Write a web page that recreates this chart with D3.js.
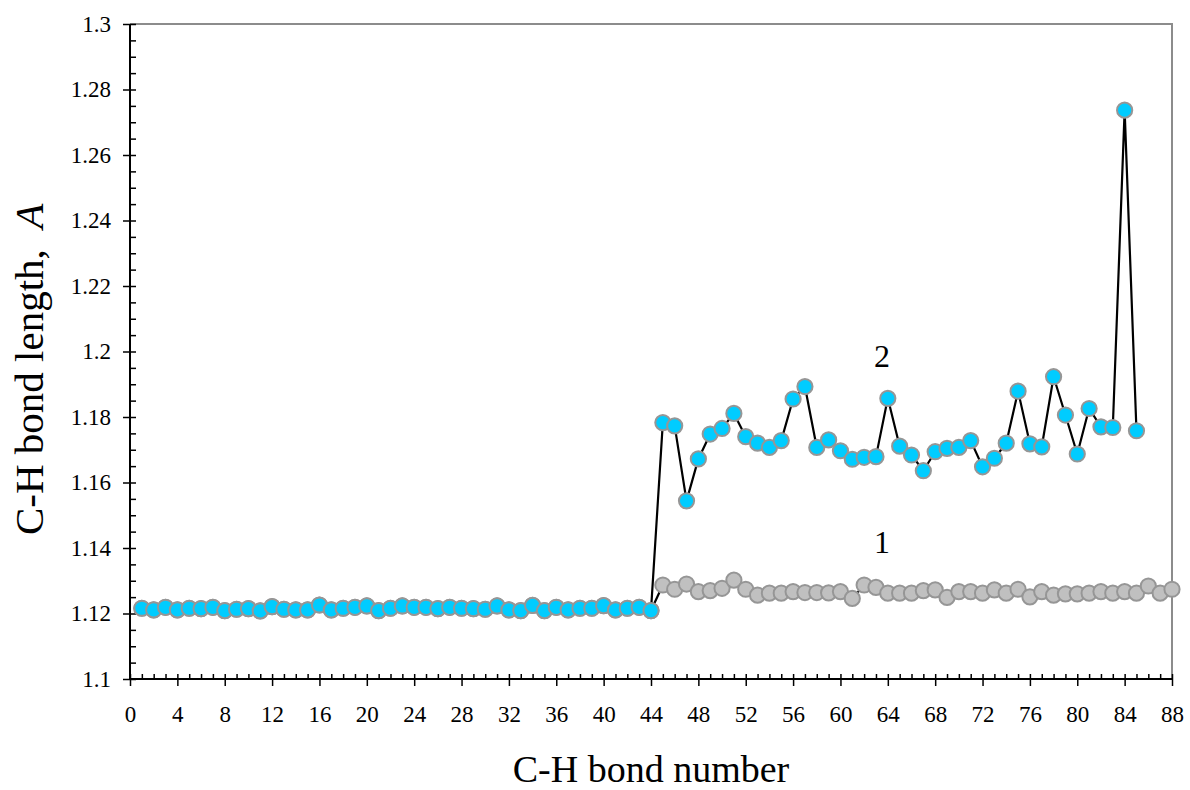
<!DOCTYPE html>
<html><head><meta charset="utf-8">
<script src="https://cdn.jsdelivr.net/npm/d3@7"></script>
<style>
body{margin:0;background:#fff}
svg{display:block}
text{font-family:"Liberation Serif","Times New Roman",serif;fill:#000}
</style>
</head><body>
<svg id="chart" width="1190" height="790"></svg>
<script>
// ---- data ----
const xTickValues = [0,4,8,12,16,20,24,28,32,36,40,44,48,52,56,60,64,68,72,76,80,84,88];
const yTickValues = [1.1,1.12,1.14,1.16,1.18,1.2,1.22,1.24,1.26,1.28,1.3];
const yTickLabels = ["1.1","1.12","1.14","1.16","1.18","1.2","1.22","1.24","1.26","1.28","1.3"];

// bonds 1..44 (both curves coincide here)
const lowStart = [1.1216,1.1211,1.1219,1.1211,1.1216,1.1215,1.1219,1.1209,1.1213,1.1215,
  1.1208,1.1221,1.1213,1.1211,1.1211,1.1226,1.1211,1.1216,1.1219,1.1223,
  1.1209,1.1216,1.1223,1.1219,1.1219,1.1215,1.1219,1.1216,1.1215,1.1213,
  1.1223,1.1211,1.1209,1.1225,1.1209,1.1219,1.1211,1.1216,1.1216,1.1224,
  1.1211,1.1216,1.1219,1.1209];
// curve 2, bonds 45..85
const curve2Tail = [1.1783,1.1773,1.1544,1.1672,1.1748,1.1765,1.1811,1.1740,1.1720,1.1707,
  1.1728,1.1855,1.1893,1.1707,1.1730,1.1697,1.1671,1.1677,1.1679,1.1857,
  1.1711,1.1684,1.1636,1.1694,1.1704,1.1707,1.1728,1.1648,1.1674,1.1720,
  1.1879,1.1718,1.1709,1.1923,1.1806,1.1687,1.1826,1.1770,1.1768,1.2737,1.1758];
// curve 1, bonds 45..88
const curve1Tail = [1.1287,1.1274,1.1290,1.1267,1.1270,1.1277,1.1302,1.1274,1.1256,1.1262,
  1.1262,1.1267,1.1264,1.1264,1.1263,1.1267,1.1246,1.1287,1.1280,1.1262,
  1.1262,1.1262,1.1270,1.1272,1.1249,1.1267,1.1267,1.1262,1.1272,1.1262,
  1.1274,1.1251,1.1267,1.1256,1.1260,1.1260,1.1262,1.1267,1.1262,1.1267,
  1.1262,1.1284,1.1262,1.1274];

const curve1 = lowStart.concat(curve1Tail).map((v,i)=>({x:i+1,y:v}));
const curve2 = lowStart.concat(curve2Tail).map((v,i)=>({x:i+1,y:v}));

// ---- layout ----
const FONT = '"Liberation Serif","Times New Roman",serif';
const L=130, R=1172, T=24, B=679;
const svg = d3.select("#chart");
const x = d3.scaleLinear().domain([0,88]).range([L,R]);
const y = d3.scaleLinear().domain([1.1,1.3]).range([B,T]);

// frame (top/right grey)
svg.append("path").attr("d",`M${L},${T}H${R}V${B}`).attr("fill","none")
  .attr("stroke","#8c8c8c").attr("stroke-width",2);

// minor ticks
const xMinor = d3.range(0,89,1).filter(d=>d%4!==0);
const yMinor = d3.range(0,41).map(i=>1.1+i*0.005).filter((d,i)=>i%4!==0);
svg.append("g").attr("transform",`translate(0,${B})`)
  .call(d3.axisTop(x).tickValues(xMinor).tickSize(5).tickFormat(""))
  .call(g=>g.select(".domain").remove())
  .selectAll("line").attr("stroke","#000").attr("stroke-width",1.5);
svg.append("g").attr("transform",`translate(${L},0)`)
  .call(d3.axisRight(y).tickValues(yMinor).tickSize(6).tickFormat(""))
  .call(g=>g.select(".domain").remove())
  .selectAll("line").attr("stroke","#000").attr("stroke-width",1.5);

// major axes
const xAxis = svg.append("g").attr("transform",`translate(0,${B})`)
  .call(d3.axisBottom(x).tickValues(xTickValues).tickFormat(d3.format("d")).tickSizeInner(7).tickSizeOuter(0).tickPadding(20));
xAxis.attr("font-family",null).attr("font-size",null);
xAxis.select(".domain").remove();
xAxis.selectAll(".tick line").attr("y1",-5).attr("y2",7).attr("stroke","#000").attr("stroke-width",1.5);
xAxis.selectAll("text").style("font-family",FONT).style("font-size","23px").attr("fill","#000");

const yAxis = svg.append("g").attr("transform",`translate(${L},0)`)
  .call(d3.axisLeft(y).tickValues(yTickValues).tickFormat((d,i)=>yTickLabels[i]).tickSizeInner(7).tickSizeOuter(0).tickPadding(12));
yAxis.attr("font-family",null).attr("font-size",null);
yAxis.select(".domain").remove();
yAxis.selectAll(".tick line").attr("x1",6).attr("x2",-7).attr("stroke","#000").attr("stroke-width",1.5);
yAxis.selectAll("text").style("font-family",FONT).style("font-size","23px").attr("fill","#000");

svg.append("path").attr("d",`M${L},${T}V${B}H${R}`).attr("fill","none")
  .attr("stroke","#000").attr("stroke-width",2);

// series
const line = d3.line().x(d=>x(d.x)).y(d=>y(d.y));
function drawSeries(data, fill){
  const g = svg.append("g");
  g.append("path").datum(data).attr("d",line).attr("fill","none")
    .attr("stroke","#000").attr("stroke-width",2.2).attr("stroke-linejoin","round");
  g.selectAll("circle").data(data).join("circle")
    .attr("cx",d=>x(d.x)).attr("cy",d=>y(d.y)).attr("r",7.6)
    .attr("fill",fill).attr("stroke","#969696").attr("stroke-width",2);
}
drawSeries(curve1, "#c0c0c0");
drawSeries(curve2, "#00ccff");

// curve labels
svg.append("text").attr("x",882).attr("y",367).attr("text-anchor","middle")
  .style("font-family",FONT).style("font-size","32px").text("2");
svg.append("text").attr("x",882).attr("y",553).attr("text-anchor","middle")
  .style("font-family",FONT).style("font-size","32px").text("1");

// axis titles
svg.append("text").attr("x",(L+R)/2).attr("y",782).attr("text-anchor","middle")
  .style("font-family",FONT).style("font-size","38px").text("C-H bond number");
const yt = svg.append("text").attr("transform",`translate(43,535) rotate(-90)`)
  .attr("text-anchor","start").style("font-family",FONT).style("font-size","41px");
yt.append("tspan").text("C-H bond length,\u00a0 ");
yt.append("tspan").style("font-style","italic").text("A");
</script>
</body></html>
